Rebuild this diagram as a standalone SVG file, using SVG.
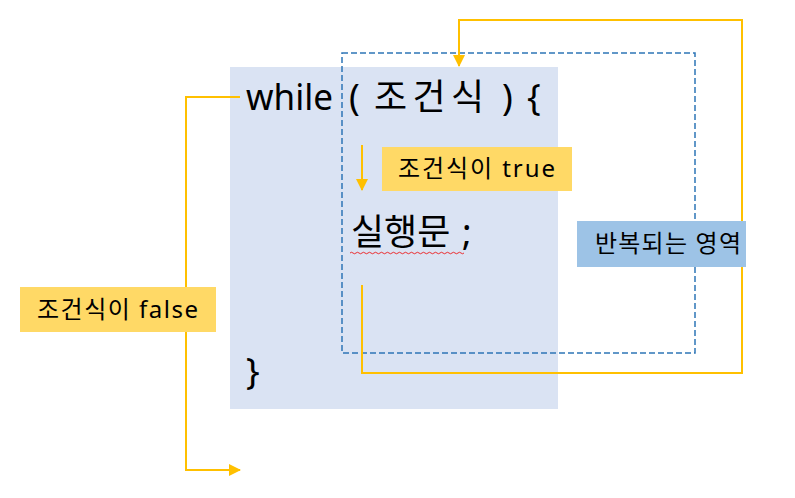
<svg xmlns="http://www.w3.org/2000/svg" width="795" height="498" viewBox="0 0 795 498">
<defs>
<style>
.t{font-family:"Noto Sans","Noto Sans CJK KR",sans-serif;fill:#000}
.code{font-size:36px}
.lbl{font-size:24px}
.c{fill:none;stroke:#FFC000;stroke-width:2}
</style>
<marker id="ah" markerWidth="12" markerHeight="12" refX="11" refY="6" orient="auto" markerUnits="userSpaceOnUse" viewBox="0 0 12 12">
<path d="M0,0 L12,6 L0,12 z" fill="#FFC000"/>
</marker>
</defs>
<rect width="795" height="498" fill="#fff"/>
<g id="code-block">
<rect x="230" y="67" width="328" height="342" fill="#DAE3F3"/>
<text class="t code" y="110"><tspan x="246" textLength="87" lengthAdjust="spacingAndGlyphs">while</tspan><tspan x="349">(</tspan><tspan x="374" textLength="110" lengthAdjust="spacing">조건식</tspan><tspan x="502">)</tspan><tspan x="527">{</tspan></text>
<text class="t code" y="245"><tspan x="351">실행문</tspan><tspan x="462">;</tspan></text>
<path d="M350,253 q1.5,-1.5 3,0 t3,0 t3,0 t3,0 t3,0 t3,0 t3,0 t3,0 t3,0 t3,0 t3,0 t3,0 t3,0 t3,0 t3,0 t3,0 t3,0 t3,0 t3,0 t3,0 t3,0 t3,0 t3,0 t3,0 t3,0 t3,0 t3,0 t3,0 t3,0 t3,0 t3,0 t3,0 t3,0 t3,0 t3,0 t3,0 t3,0 t3,0" fill="none" stroke="#E00" stroke-width="0.8"/>
<text class="t code" x="246" y="384">}</text>
</g>
<g id="loop-region">
<rect x="342" y="53" width="353" height="300" fill="none" stroke="#2E75B6" stroke-width="1.5" stroke-dasharray="6,3"/>
</g>
<g id="connectors">
<polyline class="c" points="362,285 362,373 742,373 742,20 459,20 459,66" marker-end="url(#ah)"/>
<line class="c" x1="362" y1="145" x2="362" y2="190" marker-end="url(#ah)"/>
<polyline class="c" points="240,97 186,97 186,470 240,470" marker-end="url(#ah)"/>
</g>
<g id="label-true">
<rect x="382" y="147" width="190" height="44" fill="#FFD966"/>
<text class="t lbl" x="398" y="177" textLength="157" lengthAdjust="spacing">조건식이 true</text>
</g>
<g id="label-region">
<rect x="577" y="221" width="169" height="46" fill="#9DC3E6"/>
<text class="t lbl" x="595" y="252" textLength="146" lengthAdjust="spacing">반복되는 영역</text>
</g>
<g id="label-false">
<rect x="20" y="287" width="196" height="45" fill="#FFD966"/>
<text class="t lbl" x="37" y="318" textLength="161" lengthAdjust="spacing">조건식이 false</text>
</g>
</svg>
